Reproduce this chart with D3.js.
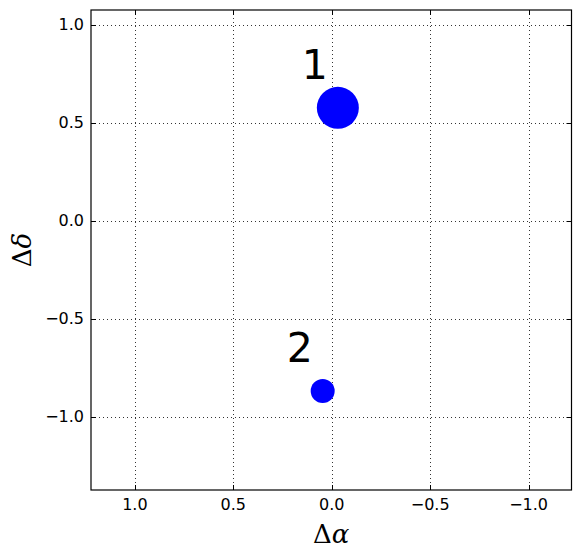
<!DOCTYPE html>
<html><head><meta charset="utf-8">
<script src="https://cdn.jsdelivr.net/npm/d3@7"></script>
<style>body{margin:0;background:#fff}svg{display:block}</style>
</head><body>
<svg id="c" width="580" height="558"></svg>
<script>
const labels = ["1", "2"];
const dAlpha = [-0.031, 0.046];
const dDelta = [0.575, -0.870];
const markerSize = [21, 12];
const xTicks = [1.0, 0.5, 0.0, -0.5, -1.0];
const yTicks = [1.0, 0.5, 0.0, -0.5, -1.0];
const xDomain = [1.223, -1.218];
const yDomain = [-1.375, 1.074];

const svg = d3.select("#c");
const L = 91, R = 571.5, T = 10, B = 490;
const x = d3.scaleLinear().domain(xDomain).range([L, R]);
const y = d3.scaleLinear().domain(yDomain).range([B, T]);
const fmt = v => (v < 0 ? "\u2212" : "") + Math.abs(v).toFixed(1);
const tf = "'DejaVu Sans', sans-serif";

// grid
const g = svg.append("g");
g.selectAll(".gx").data(xTicks).join("line")
  .attr("x1", d => Math.round(x(d)) + 0.5).attr("x2", d => Math.round(x(d)) + 0.5)
  .attr("y1", T).attr("y2", B)
  .attr("stroke", "#000").attr("stroke-width", 0.8).attr("stroke-dasharray", "1,3");
g.selectAll(".gy").data(yTicks).join("line")
  .attr("y1", d => Math.round(y(d)) + 0.5).attr("y2", d => Math.round(y(d)) + 0.5)
  .attr("x1", L).attr("x2", R)
  .attr("stroke", "#000").attr("stroke-width", 0.8).attr("stroke-dasharray", "1,3");

// points
svg.selectAll("circle.pt").data(labels).join("circle")
  .attr("cx", (d, i) => x(dAlpha[i])).attr("cy", (d, i) => y(dDelta[i]))
  .attr("r", (d, i) => markerSize[i]).attr("fill", "#0000ff");

// point labels
svg.selectAll("text.lab").data(labels).join("text")
  .attr("x", (d, i) => x(dAlpha[i]) - 36).attr("y", (d, i) => y(dDelta[i]) - 29)
  .attr("font-family", tf).attr("font-size", 41).attr("fill", "#000")
  .text(d => d);

// axes with inward ticks
const ax = svg.append("g");
function ticks(sel, vals, scale, orient) {
  vals.forEach(v => {
    const p = Math.round(scale(v)) + 0.5;
    if (orient === "x") {
      ax.append("line").attr("x1", p).attr("x2", p).attr("y1", B).attr("y2", B - 5).attr("stroke", "#000");
      ax.append("line").attr("x1", p).attr("x2", p).attr("y1", T).attr("y2", T + 5).attr("stroke", "#000");
    } else {
      ax.append("line").attr("y1", p).attr("y2", p).attr("x1", L).attr("x2", L + 5).attr("stroke", "#000");
      ax.append("line").attr("y1", p).attr("y2", p).attr("x1", R).attr("x2", R - 5).attr("stroke", "#000");
    }
  });
}
ticks(ax, xTicks, x, "x");
ticks(ax, yTicks, y, "y");
ax.selectAll("text.xt").data(xTicks).join("text")
  .attr("x", d => x(d)).attr("y", B + 20)
  .attr("text-anchor", "middle").attr("font-family", tf).attr("font-size", 16)
  .text(fmt);
ax.selectAll("text.yt").data(yTicks).join("text")
  .attr("x", L - 7).attr("y", d => y(d)).attr("dy", "0.36em")
  .attr("text-anchor", "end").attr("font-family", tf).attr("font-size", 16)
  .text(fmt);

svg.append("rect").attr("x", L).attr("y", T).attr("width", R - L).attr("height", B - T)
  .attr("fill", "none").attr("stroke", "#000").attr("stroke-width", 1.2);

// axis labels
svg.append("text").attr("x", (L + R) / 2).attr("y", 543).attr("text-anchor", "middle")
  .attr("font-family", "'DejaVu Serif', serif").attr("font-size", 26)
  .html("\u0394<tspan font-style='italic'>\u03b1</tspan>");
svg.append("text").attr("transform", `translate(31,${(T + B) / 2}) rotate(-90)`).attr("text-anchor", "middle")
  .attr("font-family", "'DejaVu Serif', serif").attr("font-size", 26)
  .html("\u0394<tspan font-style='italic'>\u03b4</tspan>");
</script>
</body></html>
